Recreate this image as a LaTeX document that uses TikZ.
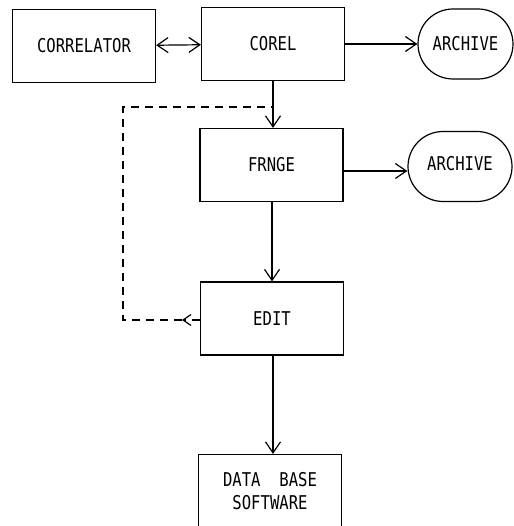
\documentclass[tikz,border=0pt]{standalone}
\usepackage{fontspec}
\newfontfamily\plotfont[FakeStretch=0.82]{DejaVu Sans Mono}
\usetikzlibrary{arrows.meta,shapes.misc}

\begin{document}
\begin{tikzpicture}[x=1pt,y=-1pt,
            font=\plotfont\fontsize{19}{23}\selectfont,
            >={Straight Barb[length=11pt,width=15pt]},
            line width=1.2pt,
            blk/.style={draw,minimum width=143pt,minimum height=73pt,inner sep=0pt,align=center},
            arch/.style={draw,rounded rectangle,minimum height=70pt,inner sep=0pt},
            feedback/.style={dash pattern=on 8pt off 6pt},
        ]
        \useasboundingbox (0,0) rectangle (513,526);
        % processing boxes
        \node[blk] (correl) at (84,46) {CORRELATOR};
        \node[blk] (corel) at (273,44) {COREL};
        \node[blk] (frnge) at (271.5,165) {\raisebox{-6pt}{FRNGE}};
        \node[blk] (edit) at (272,318.5) {EDIT};
        \node[blk] (dbase) at (270,491) {DATA\ \ BASE\\SOFTWARE};
        % archives
        \node[arch,minimum width=95pt] (arch1) at (465.5,44) {ARCHIVE};
        \node[arch,minimum width=104pt] (arch2) at (460,166.5) {\raisebox{6pt}{ARCHIVE}};
        % connectors
        \draw[<->] (correl) -- (corel);
        \draw[->] (corel) -- (arch1);
        \draw[->] (corel.south) -- (corel.south |- frnge.north);
        \draw[->] ([yshift=-6pt]frnge.east) -- ([yshift=-6pt]frnge.east -| arch2.west);
        \draw[->] (frnge.south -| edit) -- (edit.north);
        \draw[->] (edit.south -| corel) -- (corel |- dbase.north);
        % feedback from EDIT
        \coordinate (tip) at (182,320);
        \coordinate (corner) at (123,320);
        \coordinate (join) at (273,107);
        \draw[feedback,->,>={Straight Barb[length=8pt,width=11pt]}] (edit.west |- tip) -- (tip);
        \draw[feedback] (tip) -- (corner) -- (corner |- join) -- (join);
\end{tikzpicture}
\end{document}
